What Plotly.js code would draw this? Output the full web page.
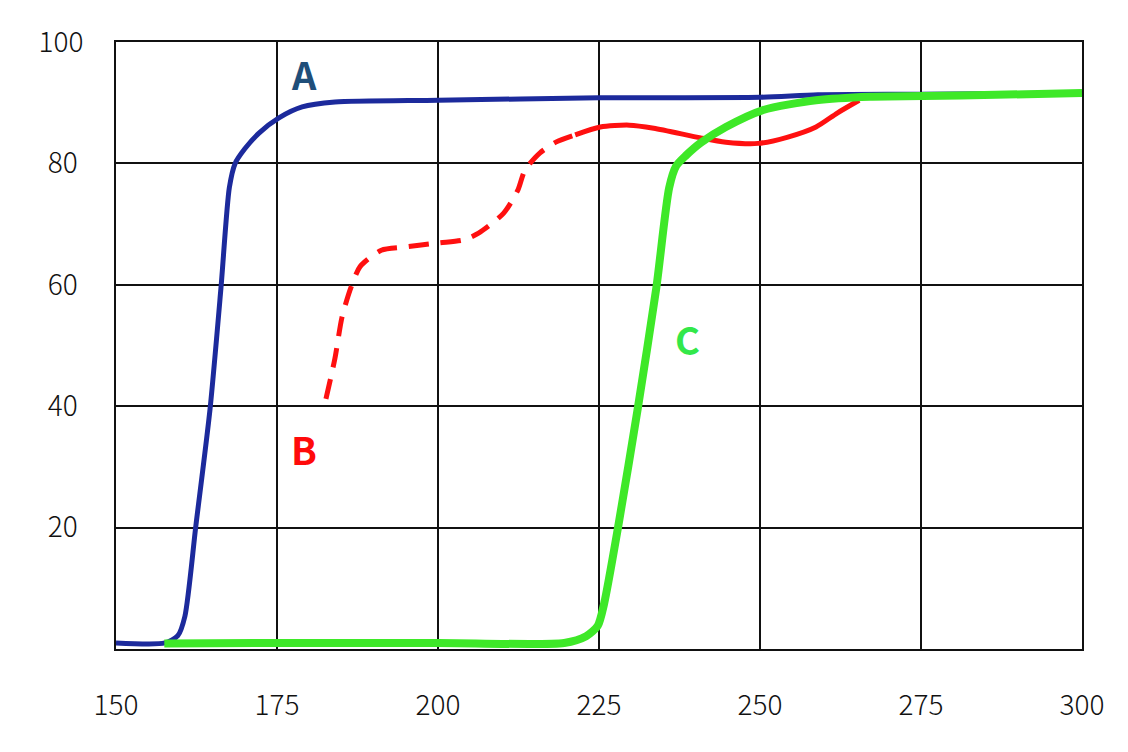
<!DOCTYPE html>
<html>
<head>
<meta charset="utf-8">
<script src="https://cdn.plot.ly/plotly-3.0.1.min.js"></script>
<style>
  html, body { margin: 0; padding: 0; background: #fff; }
  #chart { width: 1128px; height: 752px; }
</style>
</head>
<body>
<div id="chart"></div>
<script>
// curve A (blue)
const aX = [150, 157.6, 159.6, 160.7, 162.4, 164.6, 166.3, 167.6, 168.5, 170, 172.2, 175.3, 178.9, 184, 200, 225, 250, 259, 275, 300];
const aY = [1, 1, 2.2, 5.4, 20.3, 39.5, 59.5, 76, 80, 82.4, 85, 87.5, 89.3, 90.1, 90.4, 90.8, 90.9, 91.3, 91.4, 91.6];

// curve B (red), dashed start then solid
const bDashX = [182.6, 184, 185.1, 186.5, 187.9, 191.2, 194.6, 200.1, 204, 206.3, 210.2, 212.4, 213.5, 215.8, 218.3, 221.3];
const bDashY = [41.2, 47.9, 54.7, 59.6, 63, 65.7, 66.2, 66.9, 67.4, 68.5, 71.8, 75.6, 78.9, 81.7, 83.5, 84.7];
const bSolidX = [221.3, 225.2, 229.7, 233.5, 240.8, 244.7, 249.7, 254.2, 258.7, 262, 265.4];
const bSolidY = [84.7, 86, 86.3, 85.8, 84.2, 83.5, 83.3, 84.3, 86, 88.3, 90.4];

// curve C (green)
const cX = [157.5, 175, 200, 219.6, 223, 224.8, 225.8, 228, 231, 233.9, 235.9, 237, 238.5, 240.8, 244.7, 250.5, 258.7, 267.1, 275.3, 286.6, 300];
const cY = [0.9, 1, 1, 1, 2.1, 3.8, 7.5, 20.3, 39.5, 59.5, 76, 79.6, 81.3, 83.4, 86, 88.8, 90.4, 91, 91.1, 91.3, 91.6];

const xTicks = [150, 175, 200, 225, 250, 275, 300];
const yTicks = [20, 40, 60, 80, 100];
const yTickText = ['20\u2009', '40\u2009', '60\u2009', '80\u2009', '100'];

const labels = [
  { text: 'A', x: 179.2, y: 94.8, color: '#1f4e79' },
  { text: 'B', x: 179.2, y: 33.1, color: '#ff0a0a' },
  { text: 'C', x: 238.8, y: 51.1, color: '#33e84a' }
];

const traces = [
  {
    x: aX, y: aY, type: 'scatter', mode: 'lines',
    line: { color: '#1c2a9c', width: 5, shape: 'spline', smoothing: 0.7 }
  },
  {
    x: bDashX, y: bDashY, type: 'scatter', mode: 'lines',
    line: { color: '#ff1010', width: 5, shape: 'spline', smoothing: 0.7, dash: '20px,12px' }
  },
  {
    x: bSolidX, y: bSolidY, type: 'scatter', mode: 'lines',
    line: { color: '#ff1010', width: 5, shape: 'spline', smoothing: 0.7 }
  },
  {
    x: cX, y: cY, type: 'scatter', mode: 'lines',
    line: { color: '#3ee828', width: 8, shape: 'spline', smoothing: 0.7 }
  }
];

const layout = {
  width: 1128,
  height: 752,
  margin: { l: 116, r: 46, t: 42, b: 103 },
  paper_bgcolor: '#fff',
  plot_bgcolor: '#fff',
  showlegend: false,
  font: { family: '"Noto Sans CJK JP", "Noto Sans", sans-serif', size: 28, weight: 300, color: '#111' },
  xaxis: {
    range: [150, 300],
    tickvals: xTicks,
    ticktext: xTicks.map(String),
    showgrid: true, gridcolor: '#111', gridwidth: 2,
    showline: true, mirror: true, linecolor: '#111', linewidth: 2,
    zeroline: false, ticks: '', ticklabelstandoff: 30,
    fixedrange: true
  },
  yaxis: {
    range: [0, 100],
    tickvals: yTicks,
    ticktext: yTickText,
    showgrid: true, gridcolor: '#111', gridwidth: 2,
    showline: true, mirror: true, linecolor: '#111', linewidth: 2,
    zeroline: false, ticks: '', ticklabelstandoff: 25,
    fixedrange: true
  },
  annotations: labels.map(l => ({
    x: l.x, y: l.y, xref: 'x', yref: 'y',
    text: '<b>' + l.text + '</b>', showarrow: false,
    font: { family: '"Noto Sans CJK JP", "Open Sans", sans-serif', size: 38, color: l.color }
  }))
};

Plotly.newPlot('chart', traces, layout, { displayModeBar: false, staticPlot: true });
</script>
</body>
</html>
